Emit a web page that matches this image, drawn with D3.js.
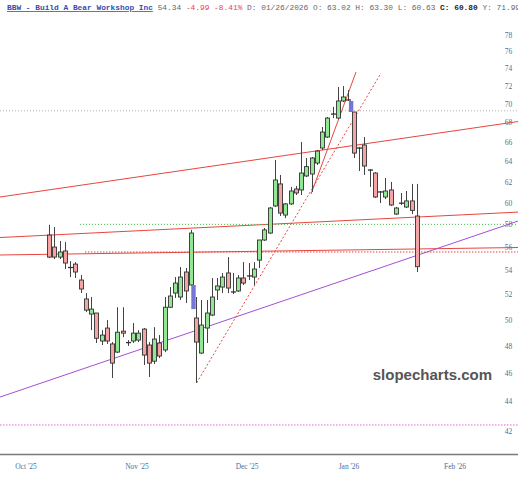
<!DOCTYPE html>
<html><head><meta charset="utf-8">
<script src="https://cdn.jsdelivr.net/npm/d3@7"></script>
<style>html,body{margin:0;padding:0;background:#fff;} svg{display:block;}</style>
</head><body>
<svg id="chart" width="518" height="480"></svg>
<script>
// ---- DATA (daily candles, oldest first) ----
const openP  = [57.09,56.03,55.16,55.69,54.27,54.56,53.22,51.67,50.47,50.55,48.39,49.38,48.17,47.56,49.14,48.27,48.39,48.46,49.30,48.09,46.89,48.24,47.72,51.01,52.15,51.83,53.89,52.81,50.16,47.49,49.38,50.39,52.40,52.64,53.81,52.24,52.32,53.39,53.56,53.47,54.90,56.65,57.27,59.74,61.83,58.90,59.93,61.34,61.25,62.60,62.79,63.88,65.39,66.52,68.95,68.52,70.37,70.48,69.17,65.39,65.70,63.18,62.89,61.06,60.58,61.25,58.99,60.00,59.64,60.21,58.81];
const highP  = [58.01,57.81,56.56,56.47,54.82,54.73,53.64,52.15,51.83,50.55,49.22,50.00,48.31,51.01,51.01,48.46,49.77,49.22,49.38,48.31,49.45,48.84,51.83,52.64,53.47,54.31,54.23,57.55,51.83,51.59,51.59,53.39,53.39,53.81,55.16,53.81,53.64,54.73,54.65,54.73,56.65,57.72,59.64,64.18,62.70,60.02,61.54,61.63,66.01,64.38,64.48,65.19,67.57,68.63,69.72,71.92,72.03,71.58,69.17,65.49,66.52,63.28,62.98,61.15,62.41,62.02,59.64,60.96,61.15,61.83,61.83];
const lowP   = [55.07,54.99,54.99,54.14,53.47,53.39,52.15,50.62,49.22,48.24,48.09,48.17,45.68,47.49,48.68,48.02,48.24,48.31,46.61,45.75,46.68,47.12,47.56,50.94,51.75,51.59,51.35,52.73,45.33,47.42,48.24,50.31,51.59,52.15,52.15,52.07,52.24,52.81,53.22,52.81,54.23,56.56,57.19,59.64,58.81,58.62,59.83,60.77,60.77,62.50,61.06,63.68,65.19,66.42,68.52,68.41,70.26,70.37,64.38,63.09,62.70,61.54,60.49,60.02,60.39,59.74,58.90,59.83,59.55,58.99,53.89];
const closeP = [55.16,55.16,55.60,54.65,54.27,53.89,52.48,50.78,50.86,48.60,48.84,48.39,46.75,49.06,48.99,48.27,48.99,48.99,47.34,46.75,48.54,47.27,51.01,51.91,52.97,53.47,52.32,57.27,48.31,49.61,50.55,51.83,52.73,53.47,52.56,52.24,53.39,52.97,53.56,54.14,56.65,57.55,59.55,62.21,59.08,59.93,61.15,60.96,62.89,63.52,64.38,65.08,67.04,68.52,68.95,70.37,70.81,70.48,64.88,65.39,63.58,63.18,60.58,61.06,61.15,59.83,59.55,60.00,60.21,59.33,54.34];

// gap boxes (between candles)
const gapIndex  = [27.5, 57.5];
const gapTop    = [52.81, 70.37];
const gapBottom = [50.86, 69.17];

// trend lines: start (candle index, price) -> end (candle index, price)
const lineStartIdx   = [-9.33, -9.33, -9.33, 6.85, 5.9, -9.33, -9.33, -9.33, 28.11, 49.87];
const lineStartPrice = [60.58, 56.87, 55.34, 55.60, 58.05, 69.30, 42.45, 44.34, 45.34, 60.86];
const lineEndIdx     = [89.27, 89.27, 89.27, 89.27, 89.27, 89.27, 89.27, 89.27, 63.19, 58.43];
const lineEndPrice   = [68.15, 59.17, 55.99, 55.60, 58.05, 69.30, 42.45, 58.35, 73.50, 73.62];

// axis ticks
const yTicks = [42,44,46,48,50,52,54,56,58,60,62,64,66,68,70,72,74,76,78];
const monthLabels = ["Oct '25","Nov '25","Dec '25","Jan '26","Feb '26"];
const monthIndex  = [-4.38, 16.75, 37.69, 57.1, 77.27];

// ---- STYLES ----
const lineStyles = [
  {c:"#e8453f", w:1, d:null},
  {c:"#e8453f", w:1, d:null},
  {c:"#e8453f", w:1, d:null},
  {c:"#e8453f", w:1, d:"1.5,1.5"},
  {c:"#3fb83f", w:1, d:"1,2"},
  {c:"#aaaaaa", w:1, d:"1,2"},
  {c:"#e060e0", w:1, d:"1.5,1.5"},
  {c:"#a24fd6", w:1, d:null},
  {c:"#e8453f", w:1, d:"2,2"},
  {c:"#e8453f", w:1, d:null}
];

const W = 518, H = 480;
const svg = d3.select("#chart");
const x = d3.scaleLinear().domain([0, 70]).range([49, 416.8]);
const y = d3.scaleLog().domain([42, 78]).range([431.8, 35]);

svg.append("defs").append("clipPath").attr("id","plot")
  .append("rect").attr("x",0).attr("y",16).attr("width",W).attr("height",438);

// y labels
svg.append("g").selectAll("text").data(yTicks).join("text")
  .attr("x", 508.5).attr("y", d => y(d) + 2.5)
  .attr("text-anchor","middle")
  .attr("font-family","'Liberation Serif', serif").attr("font-size", 7.5)
  .attr("fill","#4f6f96").text(d => d);

// x labels
svg.append("g").selectAll("text").data(monthLabels).join("text")
  .attr("x", (d,i) => x(monthIndex[i])).attr("y", 469)
  .attr("text-anchor","middle")
  .attr("font-family","'Liberation Serif', serif").attr("font-size", 7.5)
  .attr("fill","#4f6f96").text(d => d);

// bottom axis line
svg.append("line").attr("x1",0).attr("x2",W).attr("y1",454.5).attr("y2",454.5)
  .attr("stroke","#7a7a7a").attr("stroke-width",1.5);

// watermark
svg.append("text").attr("x",492).attr("y",380).attr("text-anchor","end")
  .attr("font-family","'Liberation Sans', Arial, sans-serif").attr("font-weight","bold")
  .attr("font-size",15).attr("fill","#555").text("slopecharts.com");

const plot = svg.append("g").attr("clip-path","url(#plot)");

// trend lines
plot.append("g").selectAll("line").data(lineStartIdx).join("line")
  .attr("x1", (d,i) => x(lineStartIdx[i])).attr("y1", (d,i) => y(lineStartPrice[i]))
  .attr("x2", (d,i) => x(lineEndIdx[i])).attr("y2", (d,i) => y(lineEndPrice[i]))
  .attr("stroke", (d,i) => lineStyles[i].c)
  .attr("stroke-width", (d,i) => lineStyles[i].w)
  .attr("stroke-dasharray", (d,i) => lineStyles[i].d);

// candles
const idx = d3.range(openP.length);
const cg = plot.append("g");
cg.selectAll("line.wick").data(idx).join("line").attr("class","wick")
  .attr("x1", i => Math.round(x(i)) + 0.5).attr("x2", i => Math.round(x(i)) + 0.5)
  .attr("y1", i => y(highP[i])).attr("y2", i => y(lowP[i]))
  .attr("stroke","#444").attr("stroke-width",1);

const bw = 4;
cg.selectAll("rect.body").data(idx.filter(i => openP[i] !== closeP[i])).join("rect").attr("class","body")
  .attr("x", i => Math.round(x(i)) + 0.5 - bw/2)
  .attr("width", bw)
  .attr("y", i => y(Math.max(openP[i], closeP[i])))
  .attr("height", i => Math.max(1, y(Math.min(openP[i], closeP[i])) - y(Math.max(openP[i], closeP[i]))))
  .attr("fill", i => closeP[i] > openP[i] ? "#93e693" : "#f4a4a4")
  .attr("stroke","#333").attr("stroke-width",0.9);

cg.selectAll("line.doji").data(idx.filter(i => openP[i] === closeP[i])).join("line").attr("class","doji")
  .attr("x1", i => Math.round(x(i)) + 0.5 - bw/2 - 0.5).attr("x2", i => Math.round(x(i)) + 0.5 + bw/2 + 0.5)
  .attr("y1", i => y(openP[i])).attr("y2", i => y(openP[i]))
  .attr("stroke","#333").attr("stroke-width",1.3);

// gap boxes
cg.selectAll("rect.gap").data(gapIndex).join("rect").attr("class","gap")
  .attr("x", (d,i) => x(gapIndex[i]) - 2.2).attr("width", 4.4)
  .attr("y", (d,i) => y(gapTop[i]))
  .attr("height", (d,i) => y(gapBottom[i]) - y(gapTop[i]))
  .attr("fill","#7475d6");

// header
const hdr = svg.append("text").attr("x",7).attr("y",10)
  .attr("font-family","'Liberation Mono', monospace").attr("font-size",7.85).attr("fill","#666")
  .attr("xml:space","preserve");
hdr.append("tspan").attr("fill","#3050b0").attr("font-weight","bold")
  .attr("text-decoration","underline").text("BBW - Build A Bear Workshop Inc");
hdr.append("tspan").text(" 54.34 ");
hdr.append("tspan").attr("fill","#e8453f").text("-4.99 -8.41%");
hdr.append("tspan").text(" D: 01/26/2026 O: 63.02 H: 63.30 L: 60.63 ");
hdr.append("tspan").attr("fill","#222").attr("font-weight","bold").text("C: 60.80");
hdr.append("tspan").text(" Y: 71.99");
</script>
</body></html>
